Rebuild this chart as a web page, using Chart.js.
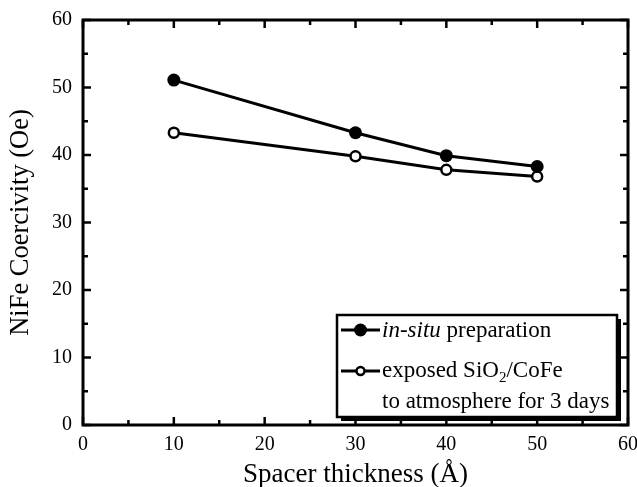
<!DOCTYPE html>
<html>
<head>
<meta charset="utf-8">
<script src="https://cdn.jsdelivr.net/npm/chart.js@4"></script>
<style>
  html, body { margin: 0; padding: 0; background: #fff; }
  #wrap { width: 637px; height: 487px; }
</style>
</head>
<body>
<div id="wrap"><canvas id="grafico" width="637" height="487"></canvas></div>
<script>
// datos
const espesor = [10, 30, 40, 50];
const inSitu = [51.1, 43.3, 39.9, 38.3];
const expuesto = [43.3, 39.8, 37.8, 36.8];
const ticksX = [0, 10, 20, 30, 40, 50, 60];
const ticksY = [0, 10, 20, 30, 40, 50, 60];

const serif = '"Liberation Serif", "Times New Roman", serif';

function linea(ctx, x1, y1, x2, y2) {
    ctx.beginPath();
    ctx.moveTo(x1, y1);
    ctx.lineTo(x2, y2);
    ctx.stroke();
}

const marcoPlugin = {
    id: 'marco',
    afterDraw(chart) {
        const ctx = chart.ctx;
        const a = chart.chartArea;
        const x = chart.scales.x;
        const y = chart.scales.y;
        ctx.save();
        ctx.strokeStyle = '#000';
        ctx.lineWidth = 3;
        ctx.strokeRect(a.left, a.top, a.right - a.left, a.bottom - a.top);

        // ticks hacia adentro, mayores cada 10 y menores cada 5
        ctx.lineWidth = 2.5;
        for (let v = 0; v <= 60; v += 5) {
            const largo = v % 10 === 0 ? 8 : 5;
            const px = x.getPixelForValue(v);
            linea(ctx, px, a.bottom, px, a.bottom - largo);
            linea(ctx, px, a.top, px, a.top + largo);
            const py = y.getPixelForValue(v);
            linea(ctx, a.left, py, a.left + largo, py);
            linea(ctx, a.right, py, a.right - largo, py);
        }

        // leyenda
        const bx = 337, by = 315, bw = 280, bh = 102;
        ctx.fillStyle = '#000';
        ctx.fillRect(bx + 4, by + 4, bw, bh);
        ctx.fillStyle = '#fff';
        ctx.fillRect(bx, by, bw, bh);
        ctx.lineWidth = 2.5;
        ctx.strokeRect(bx, by, bw, bh);

        const filas = [330, 371];
        ctx.lineWidth = 3;
        filas.forEach((fy, i) => {
            linea(ctx, 341, fy, 380, fy);
            ctx.beginPath();
            if (i === 0) {
                ctx.arc(360.5, fy, 6.5, 0, Math.PI * 2);
                ctx.fillStyle = '#000';
                ctx.fill();
            } else {
                ctx.arc(360.5, fy, 4, 0, Math.PI * 2);
                ctx.fillStyle = '#fff';
                ctx.fill();
                ctx.lineWidth = 2.5;
                ctx.stroke();
            }
        });

        ctx.fillStyle = '#000';
        ctx.textBaseline = 'middle';
        ctx.textAlign = 'left';
        ctx.font = 'italic 23px ' + serif;
        ctx.fillText('in-situ', 382, 331);
        let w = ctx.measureText('in-situ').width;
        ctx.font = '23px ' + serif;
        ctx.fillText(' preparation', 382 + w, 331);

        ctx.fillText('exposed SiO', 382, 371);
        w = ctx.measureText('exposed SiO').width;
        ctx.font = '15px ' + serif;
        ctx.fillText('2', 382 + w, 378);
        const w2 = ctx.measureText('2').width;
        ctx.font = '23px ' + serif;
        ctx.fillText('/CoFe', 382 + w + w2, 371);
        ctx.fillText('to atmosphere for 3 days', 382, 402);
        ctx.restore();
    }
};

const puntos = (ys) => espesor.map((v, i) => ({ x: v, y: ys[i] }));

new Chart(document.getElementById('grafico').getContext('2d'), {
    type: 'scatter',
    data: {
        datasets: [{
            label: 'in-situ preparation',
            data: puntos(inSitu),
            showLine: true,
            borderColor: '#000',
            borderWidth: 3,
            pointBackgroundColor: '#000',
            pointBorderColor: '#000',
            pointRadius: 6.5,
            pointBorderWidth: 0
        }, {
            label: 'exposed SiO2/CoFe to atmosphere for 3 days',
            data: puntos(expuesto),
            showLine: true,
            borderColor: '#000',
            borderWidth: 3,
            pointBackgroundColor: '#fff',
            pointBorderColor: '#000',
            pointRadius: 5,
            pointBorderWidth: 2.5
        }]
    },
    options: {
        responsive: false,
        animation: false,
        layout: { padding: { top: 20, right: 9, left: 0, bottom: 0 } },
        plugins: { legend: { display: false }, tooltip: { enabled: false } },
        scales: {
            x: {
                type: 'linear',
                min: 0, max: 60,
                afterBuildTicks: s => { s.ticks = ticksX.map(v => ({ value: v })); },
                afterFit: s => { s.height = 62; s.paddingLeft = 0; s.paddingRight = 0; },
                grid: { display: false, drawTicks: false },
                border: { display: false },
                ticks: { color: '#000', padding: 8, font: { family: serif, size: 20 } },
                title: { display: true, text: 'Spacer thickness (Å)', color: '#000', padding: { top: 0, bottom: -4 }, font: { family: serif, size: 27 } }
            },
            y: {
                type: 'linear',
                min: 0, max: 60,
                afterBuildTicks: s => { s.ticks = ticksY.map(v => ({ value: v })); },
                afterFit: s => { s.width = 83; s.paddingTop = 0; s.paddingBottom = 0; },
                grid: { display: false, drawTicks: false },
                border: { display: false },
                ticks: { color: '#000', padding: 11, font: { family: serif, size: 20 } },
                title: { display: true, text: 'NiFe Coercivity (Oe)', color: '#000', padding: { top: 5, bottom: 4 }, font: { family: serif, size: 26.5 } }
            }
        }
    },
    plugins: [marcoPlugin]
});
</script>
</body>
</html>
